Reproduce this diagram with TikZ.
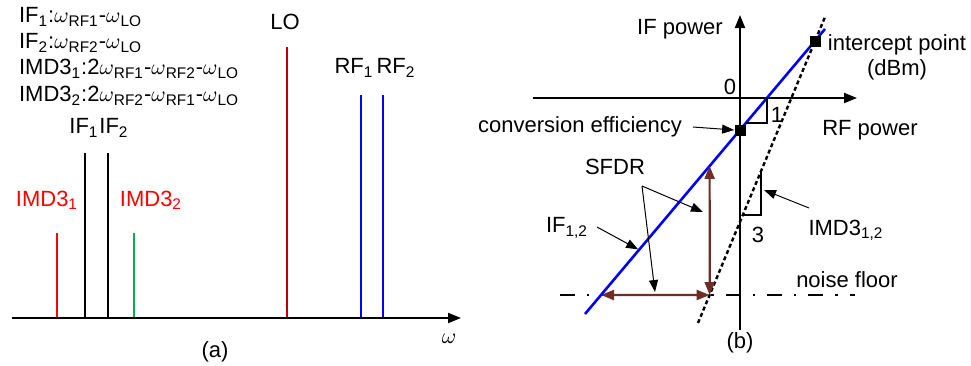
\documentclass[tikz,border=0pt]{standalone}
\usepackage{fontspec}
\setmainfont{Liberation Sans}
\usetikzlibrary{arrows.meta}
\definecolor{imdred}{RGB}{255,0,0}
\definecolor{lored}{RGB}{192,0,0}
\definecolor{imdgreen}{RGB}{0,176,80}
\definecolor{rfblue}{RGB}{0,0,255}
\definecolor{sfdrbrown}{RGB}{112,44,38}

\begin{document}
\begin{tikzpicture}[
    x=0.5pt, y=-0.5pt,
    font=\fontsize{11}{12.5}\selectfont,
    axis/.style={-{Triangle[length=6.5pt, width=5pt]}, line width=1pt},
    spec/.style={line width=1.3pt},
    note/.style={-{Triangle[length=6pt, width=4.5pt]}, line width=0.5pt},
    span/.style={{Triangle[length=6.5pt, width=5pt]}-{Triangle[length=6.5pt, width=5pt]},
      line width=1.1pt, sfdrbrown},
    ifline/.style={rfblue, line width=1.3pt},
    imdline/.style={line width=1.2pt, dash pattern=on 2pt off 1.4pt},
    floorline/.style={line width=0.8pt, dash pattern=on 7.5pt off 6pt on 1.2pt off 6pt},
    slope/.style={line width=0.6pt},
    sqmark/.style={fill, inner sep=0pt, minimum size=5.5pt}
  ]
    \useasboundingbox (0,0) rectangle (971,365);

    % (a) spectrum
    \node[anchor=west] (eqif1) at (12,17) {IF\textsubscript{1}:$\omega$\textsubscript{RF1}-$\omega$\textsubscript{LO}};
    \node[anchor=west] (eqif2) at (12,43) {IF\textsubscript{2}:$\omega$\textsubscript{RF2}-$\omega$\textsubscript{LO}};
    \node[anchor=west] (eqimd1) at (12,69) {IMD3\textsubscript{1}:2$\omega$\textsubscript{RF1}-$\omega$\textsubscript{RF2}-$\omega$\textsubscript{LO}};
    \node[anchor=west] (eqimd2) at (12,96) {IMD3\textsubscript{2}:2$\omega$\textsubscript{RF2}-$\omega$\textsubscript{RF1}-$\omega$\textsubscript{LO}};

    \foreach \x/\h/\col in {57/233/imdred, 85/153/black, 108/153/black, 134/233/imdgreen,
        287/47/lored, 361/95/rfblue, 383/95/rfblue}
      \draw[spec, \col] (\x,318) -- (\x,\h);
    \draw[axis] (12,318) -- (461,318);

    \node[imdred] (imd1) at (47,200) {IMD3\textsubscript{1}};
    \node[imdred] (imd2) at (151,200) {IMD3\textsubscript{2}};
    \node (if1) at (84,128) {IF\textsubscript{1}};
    \node (if2) at (114,128) {IF\textsubscript{2}};
    \node (lo) at (285,22) {LO};
    \node (rf1) at (354,68) {RF\textsubscript{1}};
    \node (rf2) at (396,68) {RF\textsubscript{2}};
    \node (omg) at (449,339) {$\omega$};
    \node (alabel) at (215,352) {(a)};

    % (b) transfer curves
    \coordinate (xl) at (533,98);
    \coordinate (xr) at (857,98);
    \coordinate (yb) at (740,330);
    \coordinate (yt) at (740,15);
    \coordinate (b0) at (585,314);
    \coordinate (b1) at (825,29);
    \coordinate (d0) at (698,323);
    \coordinate (d1) at (825,17);
    \coordinate (nf0) at (560,295);
    \coordinate (nf1) at (855,295);

    \draw[axis] (xl) -- (xr);
    \draw[axis] (yb) -- (yt);
    \draw[floorline] (nf0) -- (nf1);
    \draw[imdline] (d0) -- (d1);
    \draw[ifline] (b0) -- node[coordinate, pos=.225] (ifpt) {} (b1);
    \draw[slope] (767,98) -- (767,123) -- (746,123);
    \draw[slope] (761,172) -- (761,215) -- (743,215);

    \coordinate (nb) at (intersection of b0--b1 and nf0--nf1);
    \coordinate (nd) at (intersection of d0--d1 and nf0--nf1);
    \coordinate (ndup) at ([yshift=50pt]nd);
    \coordinate (vb) at (intersection of b0--b1 and nd--ndup);
    \draw[span] (nb) -- node[coordinate, pos=.5] (hm) {} (nd);
    \draw[span] (nd) -- (vb);

    \node[sqmark] (cesq) at (740,130) {};
    \node[sqmark] (ipsq) at (815,41) {};

    \node (ifpow) at (680,29) {IF power};
    \node (zero) at (730,87) {0};
    \node[align=center] (iplbl) at (897,57) {intercept point\\(dBm)};
    \node (rfpow) at (870,130) {RF power};
    \node[anchor=east] (celbl) at (689,127) {conversion efficiency};
    \node (one) at (777,115) {1};
    \node (three) at (758,235) {3};
    \node (sfdr) at (615,167) {SFDR};
    \node (iflbl) at (567,228) {IF\textsubscript{1,2}};
    \node (imdlbl) at (846,230) {IMD3\textsubscript{1,2}};
    \node (nflbl) at (847,280) {noise floor};
    \node (blabel) at (740,343) {(b)};

    \coordinate (sf) at (642,186);
    \coordinate (sfv) at (703,212);
    \coordinate (ifst) at (597,227);
    \coordinate (imdst) at (809,208);
    \coordinate (imdend) at (764,190);
    \draw[note] ([xshift=2pt]celbl.east) -- (cesq.west);
    \draw[note, shorten >=1.5pt] (sf) -- (hm);
    \draw[note] (sf) -- (sfv);
    \draw[note, shorten >=0.5pt] (ifst) -- (ifpt);
    \draw[note] (imdst) -- (imdend);
  \end{tikzpicture}
\end{document}
